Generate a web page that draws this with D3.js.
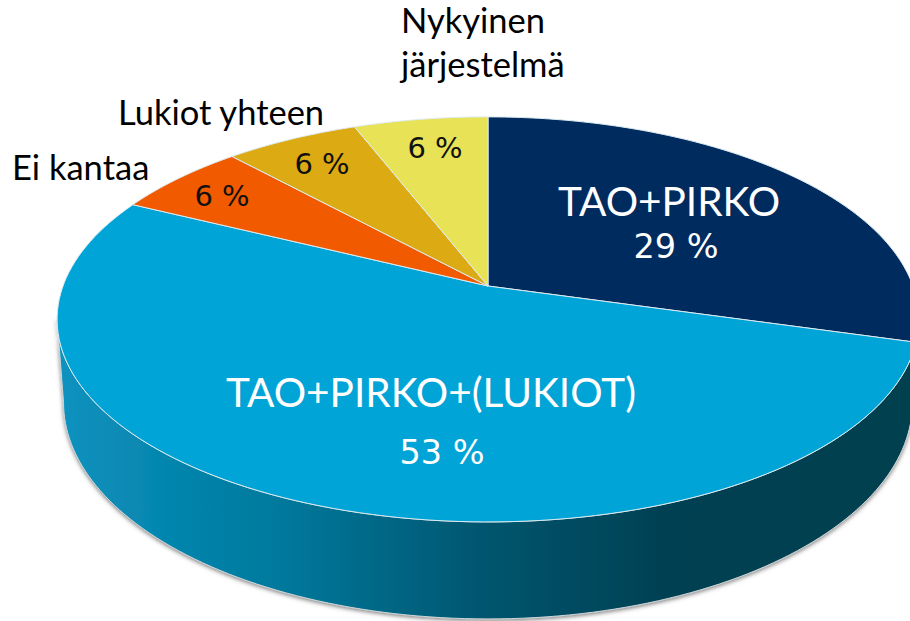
<!DOCTYPE html>
<html><head><meta charset="utf-8">
<style>html,body{margin:0;padding:0;background:#fff;overflow:hidden}svg{display:block}</style>
<script src="https://cdn.jsdelivr.net/npm/d3@7"></script></head>
<body><svg id="c" width="910" height="621"></svg>
<script>
const categories = ["TAO+PIRKO", "TAO+PIRKO+(LUKIOT)", "Ei kantaa", "Lukiot yhteen", "Nykyinen järjestelmä"];
const values = [29.4, 52.9, 5.9, 5.9, 5.9];
const sliceColors = ["#002b5f", "#00a4d6", "#f25a00", "#dcaa12", "#e8e256"];

const W = 910, H = 621, cx = 488, cy = 286, rx = 425, ry = 197, persp = -0.165, depth = 81, bottomShrink = 0.985;
const svg = d3.select("#c");
const defs = svg.append("defs");
const xS = d3.scaleLinear().domain([0, 1]).range([cx, cx + rx]);
const yS = d3.scaleLinear().domain([0, 1]).range([cy, cy + ry]);
const proj = a => {
  const u = Math.sin(a), v = -Math.cos(a), w = 1 + persp * v;
  return [xS(u / w), yS(v / w)];
};
const wallPt = a => {
  const v = -Math.cos(a), w = 1 + persp * v, [x, y] = proj(a);
  return [cx + (x - cx) * bottomShrink, y + depth / w];
};
const arcPts = (a0, a1, f) => d3.range(0, 121).map(i => f(a0 + (a1 - a0) * i / 120));
const line = d3.line();

const grad = defs.append("linearGradient").attr("id", "wall").attr("gradientUnits", "userSpaceOnUse")
  .attr("x1", 57).attr("x2", 910).attr("y1", 0).attr("y2", 0);
[[0, "#0b92bf"], [0.26, "#00799d"], [0.5, "#00566f"], [0.72, "#004052"], [1, "#023f50"]]
  .forEach(([o, c]) => grad.append("stop").attr("offset", o).attr("stop-color", c));
const sh = defs.append("filter").attr("id", "shadow").attr("x", "-5%").attr("y", "-5%").attr("width", "110%").attr("height", "115%");
sh.append("feDropShadow").attr("dx", 0).attr("dy", 1.5).attr("stdDeviation", 2).attr("flood-color", "#555").attr("flood-opacity", 0.75);

const aStart = 99.5 * Math.PI / 180, aEnd = 260.5 * Math.PI / 180;
const wallPath = line(arcPts(aStart, aEnd, proj).concat(arcPts(aEnd, aStart, wallPt))) + "Z";
svg.append("path").attr("d", wallPath).attr("fill", "url(#wall)").attr("stroke", "#cfd6d9").attr("stroke-width", 1).attr("filter", "url(#shadow)");

const arcs = d3.pie().sort(null).value(d => d)(values);
svg.append("g").selectAll("path").data(arcs).join("path")
  .attr("d", d => line([[cx, cy]].concat(arcPts(d.startAngle, d.endAngle, proj))) + "Z")
  .attr("fill", (d, i) => sliceColors[i])
  .attr("stroke", "#dcebf0").attr("stroke-width", 1).attr("stroke-linejoin", "round");

// category labels
const catLayout = [
  {x: 669, y: 216, size: 40.5, anchor: "middle", fill: "#fff"},
  {x: 431, y: 407, size: 40.5, anchor: "middle", fill: "#fff"},
  {x: 12, y: 180, size: 34.5, anchor: "start", fill: "#000"},
  {x: 118, y: 125, size: 34.5, anchor: "start", fill: "#000"},
  {x: 401, y: 33, size: 34.5, anchor: "start", fill: "#000", lh: 44}
];
const tg = svg.append("g").attr("font-family", "Lato, Carlito, sans-serif");
categories.forEach((c, i) => {
  const L = catLayout[i];
  const parts = L.lh ? c.split(" ") : [c];
  parts.forEach((t, j) => tg.append("text").attr("x", L.x).attr("y", L.y + j * (L.lh || 0))
    .attr("text-anchor", L.anchor).attr("font-size", L.size).attr("fill", L.fill).text(t));
});
// value labels
const valLayout = [
  {x: 676, y: 258, size: 33.5, fill: "#fff"},
  {x: 442, y: 464, size: 33.5, fill: "#fff"},
  {x: 222, y: 206, size: 29, fill: "#111"},
  {x: 322, y: 174, size: 29, fill: "#111"},
  {x: 435, y: 158, size: 29, fill: "#111"}
];
const vg = svg.append("g").attr("font-family", "'DejaVu Sans', sans-serif").attr("text-anchor", "middle");
values.forEach((v, i) => {
  const L = valLayout[i];
  vg.append("text").attr("x", L.x).attr("y", L.y).attr("font-size", L.size).attr("fill", L.fill).text(Math.round(v) + " %");
});
</script></body></html>
